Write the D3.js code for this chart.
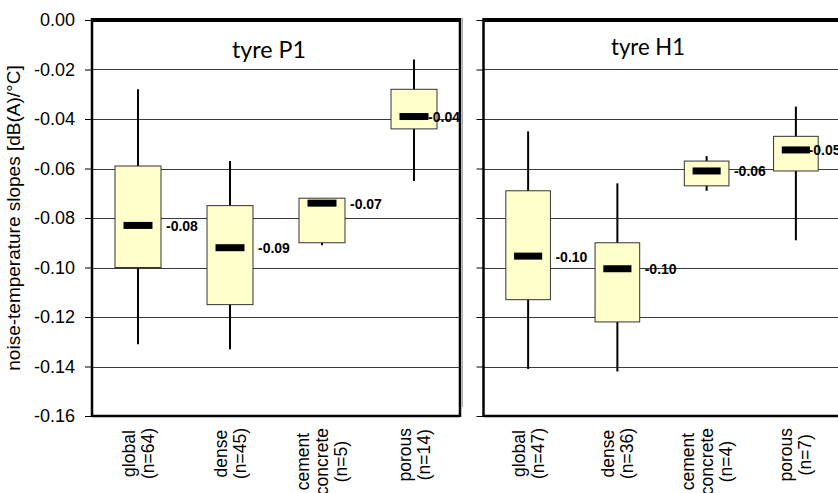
<!DOCTYPE html>
<html>
<head>
<meta charset="utf-8">
<script src="https://cdn.jsdelivr.net/npm/d3@7"></script>
<style>
  body { margin: 0; background: #fff; }
  svg { display: block; }
  text { font-family: "Liberation Sans", Arial, sans-serif; }
</style>
</head>
<body>
<svg id="chart" width="838" height="493"></svg>
<script>
// categories (label lines) for both panels
const categories = [
  ["global", "(n=64)"],
  ["dense", "(n=45)"],
  ["cement", "concrete", "(n=5)"],
  ["porous", "(n=14)"],
];
const categoriesH1 = [
  ["global", "(n=47)"],
  ["dense", "(n=36)"],
  ["cement", "concrete", "(n=4)"],
  ["porous", "(n=7)"],
];

// box stats per category: [whisker high, q3, median, q1, whisker low]
const statsP1 = [
  [-0.028, -0.059, -0.083, -0.100, -0.131],
  [-0.057, -0.075, -0.092, -0.115, -0.133],
  [-0.072, -0.072, -0.074, -0.090, -0.091],
  [-0.016, -0.028, -0.039, -0.044, -0.065],
];
const statsH1 = [
  [-0.045, -0.069, -0.0954, -0.113, -0.141],
  [-0.066, -0.090, -0.1005, -0.122, -0.142],
  [-0.055, -0.057, -0.061, -0.067, -0.069],
  [-0.035, -0.047, -0.0525, -0.061, -0.089],
];

const yTicks = [0, -0.02, -0.04, -0.06, -0.08, -0.10, -0.12, -0.14, -0.16];

const svg = d3.select("#chart");
const y = d3.scaleLinear().domain([-0.16, 0]).range([416, 20]);
// plain hyphen minus, like the original
const fmt = (v) => (Math.abs(v) < 1e-9 ? "0.00" : d3.format(".2f")(v).replace("\u2212", "-"));

function drawPanel(x0, x1, title, titleX, titleY, cats, stats, showLabels) {
  const g = svg.append("g");
  const x = d3.scaleBand().domain(d3.range(cats.length)).range([x0, x1]);

  // gridlines
  g.append("g")
    .selectAll("line")
    .data(yTicks.slice(1, -1))
    .join("line")
    .attr("x1", x0).attr("x2", x1)
    .attr("y1", (d) => Math.round(y(d)) + 0.5)
    .attr("y2", (d) => Math.round(y(d)) + 0.5)
    .attr("stroke", "#3a3a3a")
    .attr("stroke-width", 1);

  // y axis ticks
  const axis = d3.axisLeft(y).tickValues(yTicks).tickSize(7).tickPadding(10)
    .tickFormat(showLabels ? fmt : "");
  const ax = g.append("g").attr("transform", `translate(${x0},0)`).call(axis);
  ax.select(".domain").remove();
  ax.selectAll(".tick line").attr("stroke", "#000");
  ax.selectAll(".tick text")
    .attr("fill", "#000")
    .style("font-size", "18px")
    .style("font-family", '"Liberation Sans", Arial, sans-serif');

  // whiskers
  g.append("g")
    .selectAll("line")
    .data(stats)
    .join("line")
    .attr("x1", (d, i) => x(i) + x.bandwidth() / 2)
    .attr("x2", (d, i) => x(i) + x.bandwidth() / 2)
    .attr("y1", (d) => y(d[0]))
    .attr("y2", (d) => y(d[4]))
    .attr("stroke", "#000")
    .attr("stroke-width", 2);

  // boxes
  const bw = x.bandwidth() / 2;
  g.append("g")
    .selectAll("rect")
    .data(stats)
    .join("rect")
    .attr("x", (d, i) => x(i) + x.bandwidth() / 2 - bw / 2)
    .attr("y", (d) => y(d[1]))
    .attr("width", bw)
    .attr("height", (d) => y(d[3]) - y(d[1]))
    .attr("fill", "#ffffcc")
    .attr("stroke", "#333")
    .attr("stroke-width", 1);

  // median bars
  const mw = bw * 0.63;
  g.append("g")
    .selectAll("rect")
    .data(stats)
    .join("rect")
    .attr("x", (d, i) => x(i) + x.bandwidth() / 2 - mw / 2)
    .attr("y", (d) => y(d[2]) - 3.5)
    .attr("width", mw)
    .attr("height", 7)
    .attr("fill", "#000");

  // median labels, kept inside plot area
  g.append("g")
    .selectAll("text")
    .data(stats)
    .join("text")
    .attr("y", (d) => y(d[2]) + 5.5)
    .style("font-size", "14px")
    .style("font-weight", "bold")
    .attr("fill", "#000")
    .text((d) => fmt(d[2]))
    .each(function (d, i) {
      const w = this.getComputedTextLength();
      const xs = Math.min(x(i) + x.bandwidth() / 2 + bw / 2 + 5, x1 - w);
      d3.select(this).attr("x", xs);
    });

  // frame
  g.append("line").attr("x1", x0).attr("x2", x1).attr("y1", y(0)).attr("y2", y(0))
    .attr("stroke", "#000").attr("stroke-width", 4);
  g.append("line").attr("x1", x0).attr("x2", x0).attr("y1", y(0) - 2).attr("y2", y(-0.16) + 1)
    .attr("stroke", "#000").attr("stroke-width", 2.5);
  g.append("line").attr("x1", x1).attr("x2", x1).attr("y1", y(0) - 2).attr("y2", y(-0.16) + 1)
    .attr("stroke", "#000").attr("stroke-width", 2.5);
  g.append("line").attr("x1", x0).attr("x2", x1).attr("y1", y(-0.16)).attr("y2", y(-0.16))
    .attr("stroke", "#000").attr("stroke-width", 2.5);

  // title
  g.append("text")
    .attr("x", titleX).attr("y", titleY)
    .attr("text-anchor", "middle")
    .attr("textLength", 74)
    .attr("lengthAdjust", "spacingAndGlyphs")
    .style("font-family", "Lato, 'Open Sans', sans-serif")
    .style("font-size", "23px")
    .attr("fill", "#000")
    .text(title);

  // category labels (rotated, lines centred)
  const lh = 19;
  cats.forEach((lines, i) => {
    const cx = x(i) + x.bandwidth() / 2;
    const t = g.append("text")
      .attr("transform", `translate(${cx},428) rotate(-90)`)
      .style("font-size", "17.5px")
      .attr("fill", "#000");
    const spans = t.selectAll("tspan").data(lines).join("tspan")
      .attr("dy", (d, k) => (k === 0 ? ((1 - lines.length) / 2) * lh + 6 : lh))
      .text((d) => d);
    const lens = [];
    spans.each(function () { lens.push(this.getComputedTextLength()); });
    const maxLen = d3.max(lens);
    spans.attr("x", (d, k) => -maxLen / 2 - lens[k] / 2);
  });
}

drawPanel(92, 460, "tyre P1", 269, 58, categories, statsP1, true);
drawPanel(483.5, 840.5, "tyre H1", 648, 55, categoriesH1, statsH1, false);

// thin grey edge right of the first panel
svg.append("line").attr("x1", 462.5).attr("x2", 462.5).attr("y1", 18).attr("y2", 407)
  .attr("stroke", "#aaa").attr("stroke-width", 1);

// y axis title
svg.append("text")
  .attr("transform", `translate(20,218) rotate(-90)`)
  .attr("text-anchor", "middle")
  .style("font-size", "19px")
  .attr("fill", "#000")
  .text("noise-temperature slopes [dB(A)/°C]");
</script>
</body>
</html>
